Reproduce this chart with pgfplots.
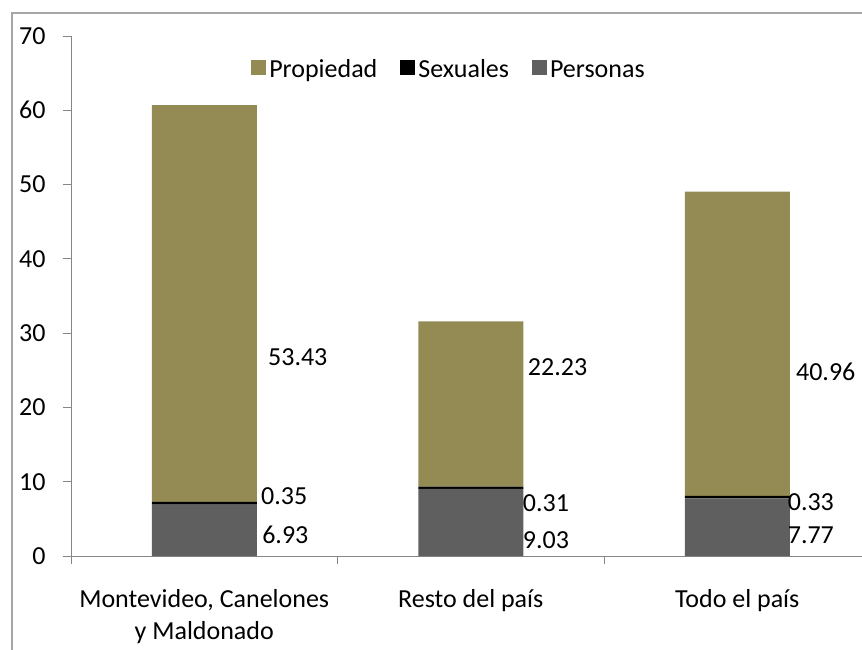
\documentclass[border=0pt]{standalone}
\usepackage{pgfplots}
\pgfplotsset{compat=1.18}
\usepackage{fontspec}
\setmainfont{Carlito}
\definecolor{prop}{HTML}{948A54}
\definecolor{pers}{HTML}{5F5F5F}
\definecolor{axgray}{HTML}{868686}
\definecolor{framegray}{HTML}{A6A6A6}
\begin{document}
\begin{tikzpicture}[x=1pt,y=1pt,font=\fontsize{26}{32}\selectfont]
\useasboundingbox (0,0) rectangle (862,649);
\draw[framegray, line width=1.2pt] (12,-20) -- (12,636) -- (900,636);
\begin{axis}[
  at={(71pt,93pt)}, anchor=south west,
  scale only axis, width=799.5pt, height=520pt,
  xmin=-0.5, xmax=2.5, ymin=0, ymax=70,
  ybar stacked, bar width=105pt,
  axis lines*=left,
  axis line style={axgray, line width=1pt},
  tick style={axgray, line width=1pt},
  tick align=outside, major tick length=8pt,
  ytick={0,10,...,70},
  xtick={-0.5,0.5,1.5,2.5}, xticklabels={},
  extra x ticks={0,1,2},
  extra x tick labels={{Montevideo, Canelones\\y Maldonado},{Resto del país},{Todo el país}},
  extra x tick style={major tick length=0pt},
  xticklabel style={align=center, text=black, yshift=-30pt},
  yticklabel style={text=black, xshift=-14pt},
  /pgf/number format/assume math mode=true,
  legend style={at={(0.4734,0.940)}, anchor=center, draw=none, fill=none,
    legend columns=3, /tikz/every even column/.append style={column sep=20pt},
    nodes={inner sep=3pt}},
  legend image code/.code={\fill[#1] (0pt,-7.5pt) rectangle (15pt,7.5pt);},
  reverse legend,
]
\addplot[fill=pers, draw=none] coordinates {(0,6.93) (1,9.03) (2,7.77)};
\addlegendentry{Personas\strut}
\addplot[fill=black, draw=none] coordinates {(0,0.35) (1,0.31) (2,0.33)};
\addlegendentry{Sexuales\strut}
\addplot[fill=prop, draw=none] coordinates {(0,53.43) (1,22.23) (2,40.96)};
\addlegendentry{Propiedad\strut}
\end{axis}
\begin{axis}[
  at={(71pt,93pt)}, anchor=south west,
  scale only axis, width=799.5pt, height=520pt,
  xmin=-0.5, xmax=2.5, ymin=0, ymax=70,
  hide axis,
]
\addplot[only marks, mark=none, nodes near coords, point meta=explicit symbolic,
  nodes near coords style={anchor=west, inner sep=0pt}]
  table[meta=lab, row sep=\\] {
  x y lab\\
  0.239 26.8 53.43\\
  0.213 8.0 0.35\\
  0.217 2.8 6.93\\
  1.214 25.4 22.23\\
  1.195 7.1 0.31\\
  1.195 2.15 9.03\\
  2.220 24.8 40.96\\
  2.189 7.3 0.33\\
  2.189 2.8 7.77\\
  };
\end{axis}
\end{tikzpicture}
\end{document}
